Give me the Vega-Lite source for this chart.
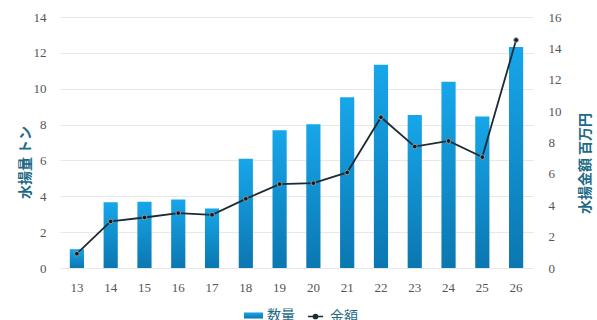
{
  "$schema": "https://vega.github.io/schema/vega-lite/v6.json",
  "width": 473,
  "height": 251,
  "autosize": "none",
  "padding": {"left": 60, "top": 17, "right": 64, "bottom": 52},
  "background": "white",
  "config": {
    "view": {"stroke": null},
    "axis": {"labelFont": "Liberation Serif", "labelFontSize": 13, "labelColor": "#555555", "titleFont": "Noto Sans CJK JP", "titleFontSize": 14, "titleFontWeight": "bold", "titleColor": "#1d6a86", "domain": false, "ticks": false, "tickSize": 0},
    "legend": {"labelFont": "Noto Sans CJK JP", "labelFontSize": 14, "labelColor": "#1d6a86", "labelOffset": 4, "symbolSize": 361}
  },
  "data": {"values": [
    {"year": "13", "qty": 1.05, "amt": 0.91},
    {"year": "14", "qty": 3.67, "amt": 2.97},
    {"year": "15", "qty": 3.69, "amt": 3.22},
    {"year": "16", "qty": 3.82, "amt": 3.5},
    {"year": "17", "qty": 3.32, "amt": 3.39},
    {"year": "18", "qty": 6.1, "amt": 4.41},
    {"year": "19", "qty": 7.69, "amt": 5.35},
    {"year": "20", "qty": 8.02, "amt": 5.41},
    {"year": "21", "qty": 9.52, "amt": 6.09},
    {"year": "22", "qty": 11.34, "amt": 9.61},
    {"year": "23", "qty": 8.53, "amt": 7.74},
    {"year": "24", "qty": 10.39, "amt": 8.1},
    {"year": "25", "qty": 8.45, "amt": 7.07},
    {"year": "26", "qty": 12.33, "amt": 14.53}
  ]},
  "encoding": {
    "x": {"field": "year", "type": "ordinal", "sort": null,
      "scale": {"paddingInner": 0.58, "paddingOuter": 0.29},
      "axis": {"title": null, "labelAngle": 0, "labelPadding": 13, "grid": false}}
  },
  "layer": [
    {
      "mark": {"type": "bar", "strokeWidth": 0, "fill": {"gradient": "linear", "x1": 0, "y1": 0, "x2": 0, "y2": 1, "stops": [{"offset": 0, "color": "#17a6ea"}, {"offset": 1, "color": "#0b77b0"}]}},
      "encoding": {
        "y": {"field": "qty", "type": "quantitative", "scale": {"domain": [0, 14]},
          "axis": {"title": "水揚量 トン", "values": [0, 2, 4, 6, 8, 10, 12, 14], "grid": true, "gridColor": "#e8e8e8", "labelPadding": 14, "titleX": -35, "titleY": 145, "titleAlign": "center", "titleBaseline": "middle", "titleAngle": 270}},
        "stroke": {"datum": "数量", "type": "nominal",
          "scale": {"domain": ["数量"], "range": ["#1496d8"]},
          "legend": {"title": null, "orient": "none", "legendX": 184, "legendY": 289,
            "symbolType": "M-1,-0.32H1V0.32H-1Z", "symbolStrokeWidth": 0}}
      }
    },
    {
      "layer": [
        {"mark": {"type": "line", "strokeWidth": 1.8},
          "encoding": {"stroke": {"datum": "金額", "type": "nominal",
            "scale": {"domain": ["金額"], "range": ["#1d2b33"]},
            "legend": {"title": null, "orient": "none", "legendX": 245, "legendY": 289,
              "symbolType": "M-0.8,0H0.8M-0.22,0A0.22,0.22 0 1 1 0.22,0A0.22,0.22 0 1 1 -0.22,0",
              "symbolFillColor": "#1d2b33", "symbolStrokeWidth": 1.5}}}},
        {"mark": {"type": "circle", "fill": "#141c22", "stroke": "#8a9aa2", "strokeWidth": 1, "size": 22, "opacity": 1}}
      ],
      "encoding": {
        "y": {"field": "amt", "type": "quantitative", "scale": {"domain": [0, 16]},
          "axis": {"orient": "right", "title": "水揚金額 百万円", "values": [0, 2, 4, 6, 8, 10, 12, 14, 16], "grid": false, "labelPadding": 15, "titleAngle": 270, "titleX": 52, "titleY": 146, "titleAlign": "center", "titleBaseline": "middle"}}
      }
    }
  ],
  "resolve": {"scale": {"y": "independent", "stroke": "independent"}, "legend": {"stroke": "independent"}}
}
